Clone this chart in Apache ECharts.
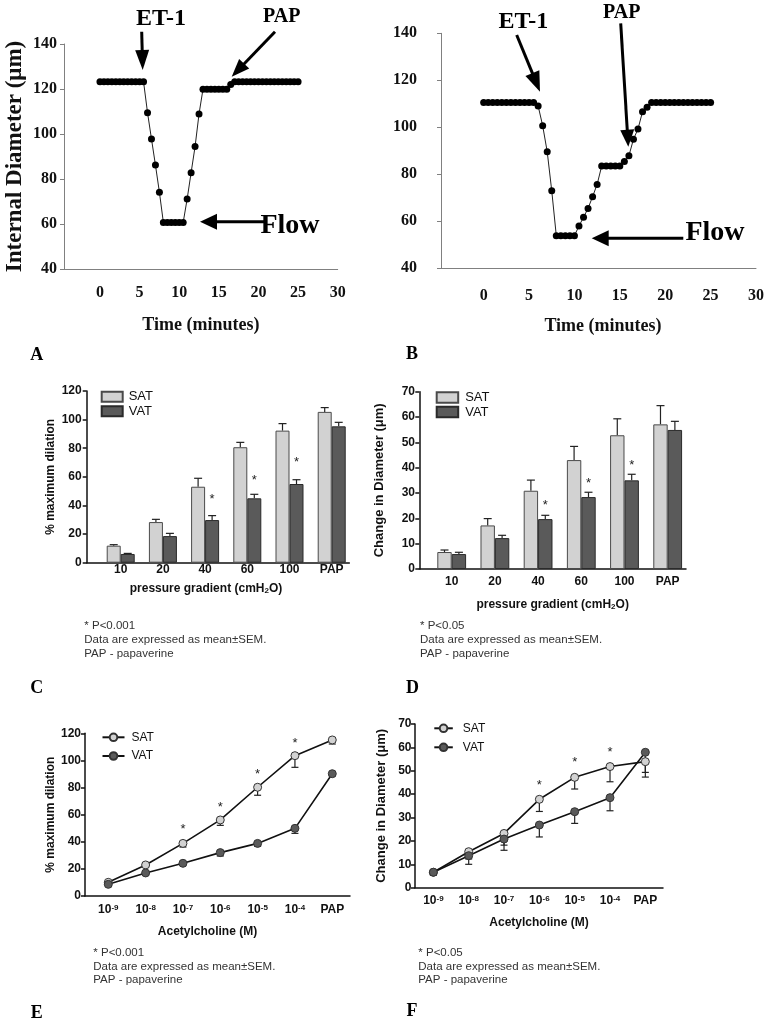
<!DOCTYPE html>
<html><head><meta charset="utf-8">
<script src="https://cdn.jsdelivr.net/npm/echarts@6/dist/echarts.min.js"></script>
<style>html,body{margin:0;padding:0;background:#fff}#c{width:764px;height:1023px}</style>
</head><body><div id="c"></div>
<script>
// ================= DATA =================
// Panel A: internal diameter over time (µm)
const timeA = [0,0.5,1,1.5,2,2.5,3,3.5,4,4.5,5,5.5,6,6.5,7,7.5,8,8.5,9,9.5,10,10.5,11,11.5,12,12.5,13,13.5,14,14.5,15,15.5,16,16.5,17,17.5,18,18.5,19,19.5,20,20.5,21,21.5,22,22.5,23,23.5,24,24.5,25];
const diamA = [123.2,123.2,123.2,123.2,123.2,123.2,123.2,123.2,123.2,123.2,123.2,123.2,
  109.5,97.8,86.2,74.1,
  60.7,60.7,60.7,60.7,60.7,60.7,
  71.1,82.8,94.4,108.9,
  119.9,119.9,119.9,119.9,119.9,119.9,119.9,
  122.0,
  123.2,123.2,123.2,123.2,123.2,123.2,123.2,123.2,123.2,123.2,123.2,123.2,123.2,123.2,123.2,123.2,123.2];
// Panel B
const timeB = [0,0.5,1,1.5,2,2.5,3,3.5,4,4.5,5,5.5,6,6.5,7,7.5,8,8.5,9,9.5,10,10.5,11,11.5,12,12.5,13,13.5,14,14.5,15,15.5,16,16.5,17,17.5,18,18.5,19,19.5,20,20.5,21,21.5,22,22.5,23,23.5,24,24.5,25];
const diamB = [110.6,110.6,110.6,110.6,110.6,110.6,110.6,110.6,110.6,110.6,110.6,110.6,
  109.1,100.7,89.6,73.0,
  53.9,53.9,53.9,53.9,53.9,
  58.0,61.7,65.5,70.5,75.7,
  83.5,83.5,83.5,83.5,83.5,
  85.4,87.9,94.9,99.3,106.6,108.5,
  110.6,110.6,110.6,110.6,110.6,110.6,110.6,110.6,110.6,110.6,110.6,110.6,110.6,110.6];
const timeTicks = [0,5,10,15,20,25,30];

// Panels C/D: pressure gradient
const pressureCats = ['10','20','40','60','100','PAP'];
const satPct = [11.9,28.4,53.1,80.7,92.3,105.4];
const satPctSem = [0.7,1.9,5.9,3.4,4.9,3.0];
const vatPct = [6.1,18.6,29.8,45.0,55.0,95.3];
const vatPctSem = [0.4,1.9,3.1,2.8,3.0,2.8];
const satDiam = [6.7,17.2,30.9,43.0,52.8,57.1];
const satDiamSem = [0.8,2.7,4.2,5.4,6.5,7.4];
const vatDiam = [5.9,12.2,19.7,28.4,35.0,54.9];
const vatDiamSem = [0.7,1.1,1.5,1.9,2.4,3.4];
const starsC = [[2,46.0],[3,59.7],[4,72.3]];
const starsD = [[2,26.3],[3,34.9],[4,42.0]];

// Panels E/F: acetylcholine
const achCats = ['10^-9','10^-8','10^-7','10^-6','10^-5','10^-4','PAP'];
const satAchPct = [10.1,22.9,38.8,56.1,80.2,103.5,115.1];
const satAchPctSem = [0.5,1.0,2.7,4.0,5.9,8.6,3.0];
const vatAchPct = [8.6,17.0,24.1,32.0,38.8,49.9,90.2];
const vatAchPctSem = [0.5,0.8,1.0,2.5,2.2,3.7,1.5];
const satAchDiam = [6.6,15.4,23.2,37.8,47.2,51.8,53.9];
const satAchDiamSem = [0.5,3.1,5.0,5.2,5.0,6.5,4.6];
const vatAchDiam = [6.6,13.7,20.8,26.8,32.5,38.5,57.9];
const vatAchDiamSem = [1.3,3.7,4.8,5.1,5.0,5.6,10.6];
const starsE = [[2,51.1],[3,67.9],[4,92.2],[5,115.1]];
const starsF = [[3,44.9],[4,54.9],[5,59.3]];

const footC = ['* P<0.001','Data are expressed as mean\u00b1SEM.','PAP - papaverine'];
const footD = ['* P<0.05','Data are expressed as mean\u00b1SEM.','PAP - papaverine'];

// ================= STYLE =================
const SANS = "'Liberation Sans', Arial, sans-serif";
const SERIF = "'Liberation Serif', 'Times New Roman', serif";
const SAT_FILL = '#d2d2d2', VAT_FILL = '#5a5a5a';

const chart = echarts.init(document.getElementById('c'), null, {renderer: 'canvas'});

function pairs(xs, ys) { return xs.map((x, i) => [x, ys[i]]); }
const idx = arr => arr.map((_, i) => i);

function timeX(gi, min, gap, pad) {
  return {type: 'value', gridIndex: gi, min: min, max: 30,
    axisLine: {onZero: false, lineStyle: {color: '#808080', width: 1}}, axisTick: {show: false}, splitLine: {show: false},
    axisLabel: {customValues: timeTicks, fontFamily: SERIF, fontWeight: 'bold', fontSize: 16, color: '#111', margin: gap.lab},
    name: 'Time (minutes)', nameLocation: 'middle', nameGap: gap.name,
    nameTextStyle: {fontFamily: SERIF, fontWeight: 'bold', fontSize: 18, color: '#111', padding: pad}};
}
function timeY(gi, margin, name) {
  const o = {type: 'value', gridIndex: gi, min: 40, max: 140, interval: 20,
    axisLine: {show: true, onZero: false, lineStyle: {color: '#808080', width: 1}},
    axisTick: {show: true, length: 4, lineStyle: {color: '#808080'}}, splitLine: {show: false},
    axisLabel: {fontFamily: SERIF, fontWeight: 'bold', fontSize: 16, color: '#111', margin: margin}};
  if (name) {
    o.name = name; o.nameLocation = 'middle'; o.nameGap = 37;
    o.nameTextStyle = {fontFamily: SERIF, fontWeight: 'bold', fontSize: 23, color: '#111'};
  }
  return o;
}
function catX(gi, min, max, cats, labMargin, name, nameGap, pad) {
  return {type: 'value', gridIndex: gi, min: min, max: max,
    axisLine: {onZero: false, lineStyle: {color: '#111', width: 1.5}}, axisTick: {show: false}, splitLine: {show: false},
    axisLabel: {customValues: idx(cats), margin: labMargin, color: '#111',
      formatter: v => {
        const s = cats[Math.round(v)];
        if (s.indexOf('^') < 0) return '{b|' + s + '}';
        const p = s.split('^');
        return '{b|' + p[0] + '}{s|' + p[1] + '}';
      },
      rich: {b: {fontFamily: SANS, fontWeight: 'bold', fontSize: 12, color: '#111'},
             s: {fontFamily: SANS, fontWeight: 'bold', fontSize: 8, color: '#111', verticalAlign: 'top', lineHeight: 8}}},
    name: name, nameLocation: 'middle', nameGap: nameGap,
    nameTextStyle: {fontFamily: SANS, fontWeight: 'bold', fontSize: 12, color: '#111', padding: pad,
      rich: {sub: {fontFamily: SANS, fontWeight: 'bold', fontSize: 8, color: '#111', verticalAlign: 'bottom', lineHeight: 8}}}};
}
function valY(gi, max, interval, margin, name, nameGap, nameSize) {
  return {type: 'value', gridIndex: gi, min: 0, max: max, interval: interval,
    axisLine: {show: true, onZero: false, lineStyle: {color: '#111', width: 1.5}},
    axisTick: {show: true, length: 4, lineStyle: {color: '#111', width: 1.5}}, splitLine: {show: false},
    axisLabel: {fontFamily: SANS, fontWeight: 'bold', fontSize: 12, color: '#111', margin: margin},
    name: name, nameLocation: 'middle', nameGap: nameGap,
    nameTextStyle: {fontFamily: SANS, fontWeight: 'bold', fontSize: nameSize, color: '#111'}};
}

function errSeries(name, xi, means, sems, dir, pxOff, capW) {
  return {type: 'custom', name: name, xAxisIndex: xi, yAxisIndex: xi, z: 1, silent: true,
    data: means.map((m, i) => [i, m, m + dir * sems[i]]),
    renderItem: (params, api) => {
      const p1 = api.coord([api.value(0), api.value(1)]);
      const p2 = api.coord([api.value(0), api.value(2)]);
      const x = p1[0] + pxOff;
      const st = {stroke: '#222', lineWidth: 1.2};
      return {type: 'group', children: [
        {type: 'line', shape: {x1: x, y1: p1[1], x2: x, y2: p2[1]}, style: st},
        {type: 'line', shape: {x1: x - capW / 2, y1: p2[1], x2: x + capW / 2, y2: p2[1]}, style: st}]};
    }};
}
function starSeries(name, xi, stars, pxOff) {
  return {type: 'custom', name: name, xAxisIndex: xi, yAxisIndex: xi, z: 5, silent: true,
    data: stars,
    renderItem: (params, api) => {
      const p = api.coord([api.value(0), api.value(1)]);
      return {type: 'text', x: p[0] + pxOff, y: p[1] + 3,
        style: {text: '*', fontFamily: SANS, fontSize: 13, fill: '#222', align: 'center', verticalAlign: 'middle'}};
    }};
}
function barSeries(name, xi, vals, fill, border, w) {
  return {type: 'bar', name: name, xAxisIndex: xi, yAxisIndex: xi, barWidth: w, barGap: '0%', z: 2,
    data: pairs(idx(vals), vals),
    itemStyle: {color: fill, borderColor: border, borderWidth: 1}};
}
function lineSeries(name, xi, vals, fill) {
  return {type: 'line', name: name, xAxisIndex: xi, yAxisIndex: xi, z: 3,
    data: pairs(idx(vals), vals), symbol: 'circle', symbolSize: 8, showSymbol: true,
    itemStyle: {color: fill, borderColor: '#333', borderWidth: 1},
    lineStyle: {color: '#111', width: 1.6}};
}
function timeSeries(name, xi, ts, vals) {
  return {type: 'line', name: name, xAxisIndex: xi, yAxisIndex: xi, z: 3,
    data: pairs(ts, vals), symbol: 'circle', symbolSize: 7, showSymbol: true,
    itemStyle: {color: '#000'}, lineStyle: {color: '#222', width: 1}};
}
function legend(prefix, left, top, iw, ih, gap, fs, isLine, textPad) {
  return {show: true, orient: 'vertical', left: left, top: top, padding: 0, itemGap: gap,
    itemWidth: iw, itemHeight: ih, selectedMode: false,
    icon: isLine ? undefined : 'rect',
    data: [prefix + '-SAT', prefix + '-VAT'],
    formatter: n => n.split('-')[1],
    textStyle: {fontFamily: SANS, fontSize: fs, color: '#111', lineHeight: 14, padding: textPad}};
}

// ---------- annotations (graphic) ----------
function arrow(x1, y1, x2, y2, hl, hw, lw) {
  const dx = x2 - x1, dy = y2 - y1, L = Math.hypot(dx, dy), ux = dx / L, uy = dy / L;
  const bx = x2 - ux * hl, by = y2 - uy * hl, nx = -uy, ny = ux;
  return [
    {type: 'line', shape: {x1: x1, y1: y1, x2: bx + ux, y2: by + uy}, style: {stroke: '#000', lineWidth: lw}},
    {type: 'polygon', shape: {points: [[x2, y2], [bx + nx * hw / 2, by + ny * hw / 2], [bx - nx * hw / 2, by - ny * hw / 2]]}, style: {fill: '#000'}}
  ];
}
function txt(t, x, y, font, size, weight, align, fill) {
  return {type: 'text', x: x, y: y, silent: true,
    style: {text: t, fontFamily: font, fontSize: size, fontWeight: weight || 'normal',
      fill: fill || '#000', align: align || 'center', verticalAlign: 'middle'}};
}
const graphics = [].concat(
  arrow(141.7, 31.7, 142.7, 70, 20, 14, 3),
  arrow(275, 31.7, 231.7, 76.7, 18, 14, 3),
  arrow(265, 221.7, 200, 221.7, 17, 16, 3),
  arrow(516.7, 35, 540, 91.7, 20, 15, 3),
  arrow(620.7, 23.3, 628.3, 146.7, 17, 14, 3),
  arrow(683.3, 238.3, 591.7, 238.3, 17, 16, 3),
  [
    txt('ET-1', 161, 18.3, SERIF, 24, 'bold'),
    txt('PAP', 281.7, 16.7, SERIF, 20, 'bold'),
    txt('Flow', 290, 226, SERIF, 28, 'bold'),
    txt('ET-1', 523.3, 21.7, SERIF, 24, 'bold'),
    txt('PAP', 621.7, 13.3, SERIF, 20, 'bold'),
    txt('Flow', 715, 233, SERIF, 28, 'bold'),
    txt('A', 36.7, 355, SERIF, 18, 'bold'),
    txt('B', 412, 354, SERIF, 18, 'bold'),
    txt('C', 36.7, 688, SERIF, 18, 'bold'),
    txt('D', 412.5, 688, SERIF, 18, 'bold'),
    txt('E', 36.7, 1013, SERIF, 18, 'bold'),
    txt('F', 412, 1011.7, SERIF, 18, 'bold')
  ],
  footC.map((t, i) => txt(t, 84.3, 626 + i * 14, SANS, 11.5, 'normal', 'left', '#333')),
  footD.map((t, i) => txt(t, 420, 626 + i * 14, SANS, 11.5, 'normal', 'left', '#333')),
  footC.map((t, i) => txt(t, 93.3, 952.7 + i * 13.7, SANS, 11.5, 'normal', 'left', '#333')),
  footD.map((t, i) => txt(t, 418.3, 952.7 + i * 13.7, SANS, 11.5, 'normal', 'left', '#333'))
);

const option = {
  animation: false,
  backgroundColor: '#fff',
  textStyle: {fontFamily: SANS},
  grid: [
    {left: 64, top: 44, width: 273.7, height: 225, outerBoundsMode: 'none'},
    {left: 441, top: 33.3, width: 315, height: 235, outerBoundsMode: 'none'},
    {left: 86.7, top: 391, width: 262.6, height: 171.7, outerBoundsMode: 'none'},
    {left: 419.3, top: 391.7, width: 266.7, height: 177.3, outerBoundsMode: 'none'},
    {left: 85, top: 733.3, width: 265, height: 162.7, outerBoundsMode: 'none'},
    {left: 415, top: 724, width: 248, height: 163.7, outerBoundsMode: 'none'}
  ],
  xAxis: [
    timeX(0, -4.54, {lab: 16, name: 47}, [0, 0, 0, 0]),
    timeX(1, -4.7, {lab: 20, name: 48.7}, [0, 0, 0, 9]),
    catX(2, -0.806, 5.417, pressureCats, 1, 'pressure gradient (cmH{sub|2}O)', 19.6, [0, 24, 0, 0]),
    catX(3, -0.75, 5.424, pressureCats, 6.5, 'pressure gradient (cmH{sub|2}O)', 30, [0, 0, 0, 0]),
    catX(4, -0.624, 6.475, achCats, 8, 'Acetylcholine (M)', 29.7, [0, 20, 0, 0]),
    catX(5, -0.52, 6.5, achCats, 6.6, 'Acetylcholine (M)', 29, [0, 0, 0, 0])
  ],
  yAxis: [
    timeY(0, 7, 'Internal Diameter (\u03bcm)'),
    timeY(1, 24, null),
    valY(2, 120, 20, 5, '% maximum dilation', 30, 12),
    valY(3, 70, 10, 4.3, 'Change in Diameter (\u03bcm)', 33, 13),
    valY(4, 120, 20, 4, '% maximum dilation', 28.5, 12),
    valY(5, 70, 10, 3.5, 'Change in Diameter (\u03bcm)', 27.5, 13)
  ],
  legend: [
    legend('C', 100.7, 389.7, 21, 10, 0.6, 13, false, [0, 0, 0, 1]),
    legend('D', 435.7, 390.5, 21.5, 10.3, 0.5, 13, false, [0, 0, 0, 2]),
    legend('E', 101.5, 730.3, 22, 9.5, 4.7, 12, true, [0, 0, 0, 2]),
    legend('F', 433.3, 721.3, 18.5, 9.5, 5, 12, true, [0, 0, 0, 5])
  ],
  graphic: graphics,
  series: [
    timeSeries('A-diameter', 0, timeA, diamA),
    timeSeries('B-diameter', 1, timeB, diamB),

    barSeries('C-SAT', 2, satPct, SAT_FILL, '#4a4a4a', 14),
    barSeries('C-VAT', 2, vatPct, VAT_FILL, '#2a2a2a', 14),
    errSeries('C-SAT-err', 2, satPct, satPctSem, 1, -7, 8),
    errSeries('C-VAT-err', 2, vatPct, vatPctSem, 1, 7, 8),
    starSeries('C-stars', 2, starsC, 7),

    barSeries('D-SAT', 3, satDiam, SAT_FILL, '#4a4a4a', 14.4),
    barSeries('D-VAT', 3, vatDiam, VAT_FILL, '#2a2a2a', 14.4),
    errSeries('D-SAT-err', 3, satDiam, satDiamSem, 1, -7.2, 8),
    errSeries('D-VAT-err', 3, vatDiam, vatDiamSem, 1, 7.2, 8),
    starSeries('D-stars', 3, starsD, 7.2),

    errSeries('E-SAT-err', 4, satAchPct, satAchPctSem, -1, 0, 7),
    errSeries('E-VAT-err', 4, vatAchPct, vatAchPctSem, -1, 0, 7),
    lineSeries('E-SAT', 4, satAchPct, SAT_FILL),
    lineSeries('E-VAT', 4, vatAchPct, VAT_FILL),
    starSeries('E-stars', 4, starsE, 0),

    errSeries('F-SAT-err', 5, satAchDiam, satAchDiamSem, -1, 0, 7),
    errSeries('F-VAT-err', 5, vatAchDiam, vatAchDiamSem, -1, 0, 7),
    lineSeries('F-SAT', 5, satAchDiam, SAT_FILL),
    lineSeries('F-VAT', 5, vatAchDiam, VAT_FILL),
    starSeries('F-stars', 5, starsF, 0)
  ]
};
chart.setOption(option);
</script>
</body></html>
